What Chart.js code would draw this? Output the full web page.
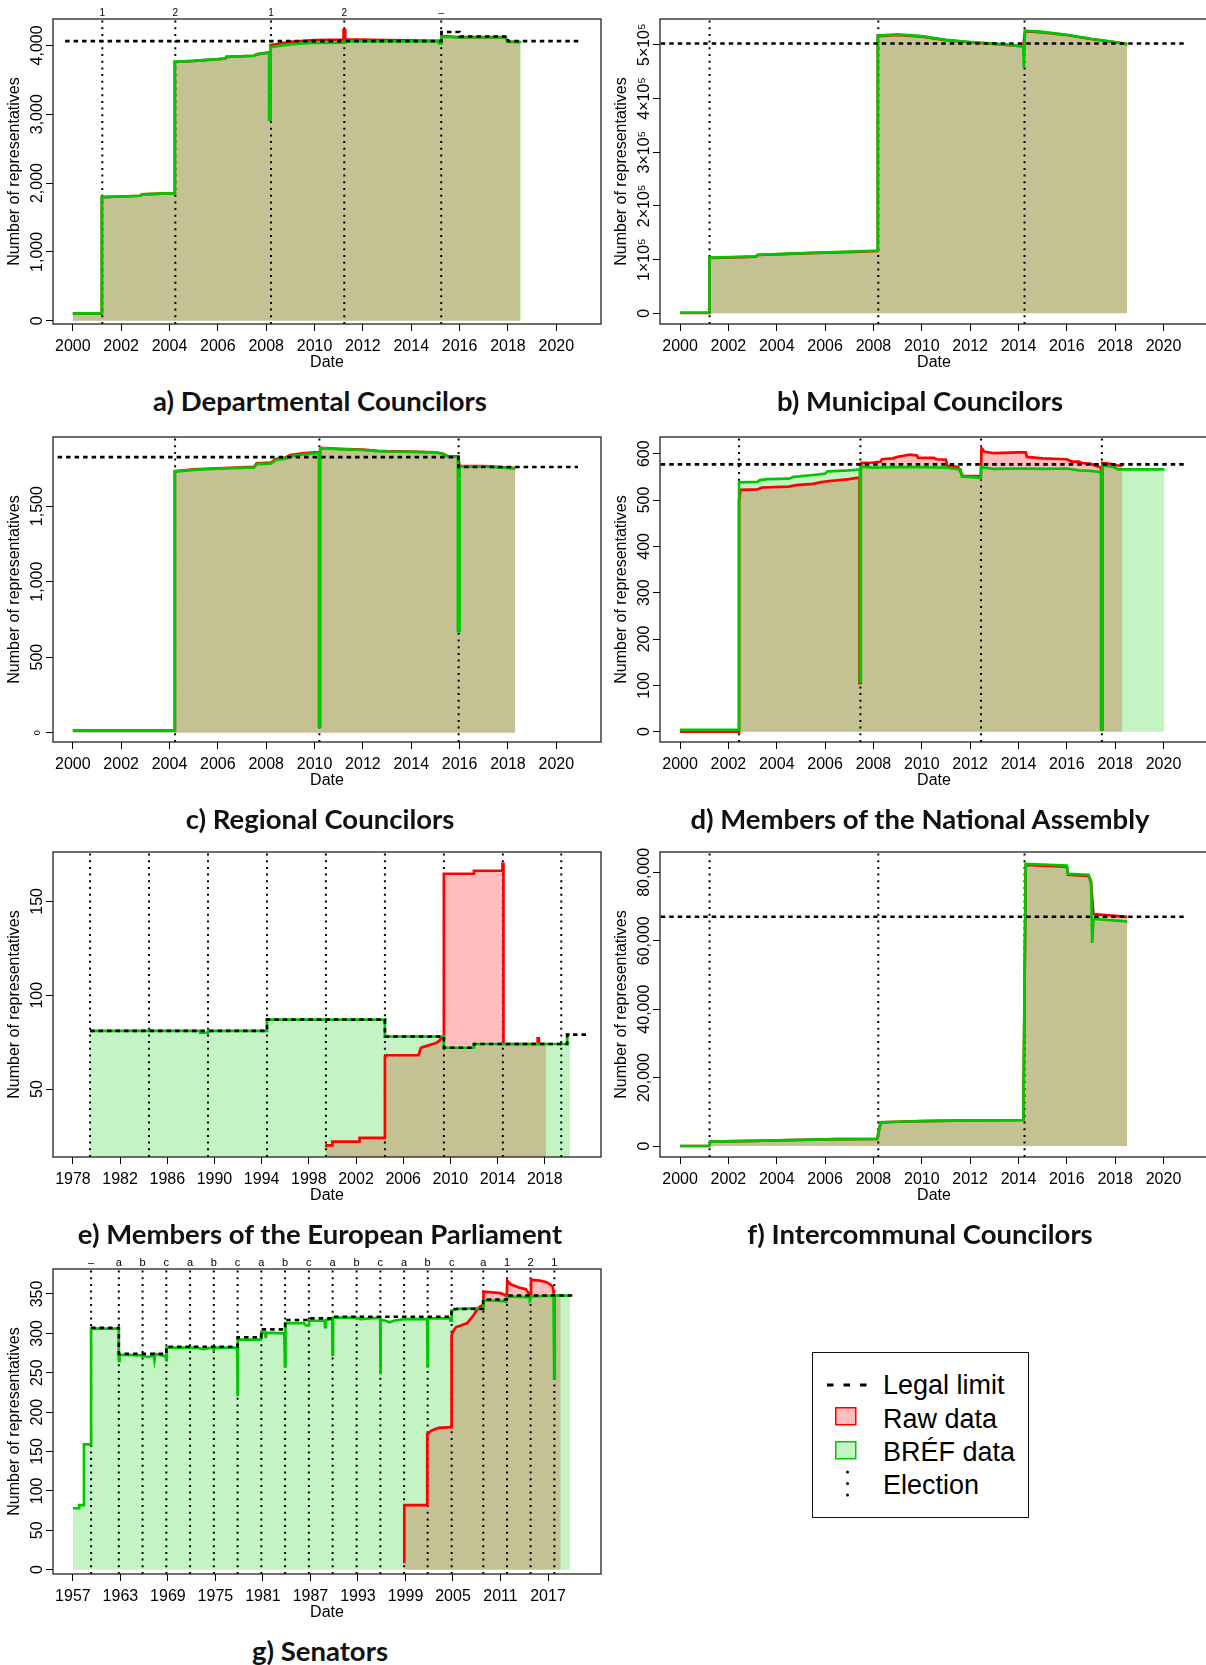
<!DOCTYPE html>
<html>
<head>
<meta charset="utf-8">
<script src="https://cdn.jsdelivr.net/npm/chart.js@4.4.1/dist/chart.umd.min.js"></script>
<style>
  html, body { margin: 0; padding: 0; background: #fff; }
  body { position: relative; width: 1206px; height: 1665px; overflow: hidden; }
  canvas { position: absolute; }
  .title { position: absolute; width: 600px; text-align: center; font: bold 27.5px Lato, "Open Sans", sans-serif; line-height: 27.5px; color: #111; white-space: nowrap; }
  #legend { position: absolute; left: 812px; top: 1352px; width: 217px; height: 166px; border: 1.5px solid #111; box-sizing: border-box; }
  #legend span { position: absolute; left: 70px; font: 27px "Liberation Sans", Arial, sans-serif; line-height: 30px; color: #000; white-space: nowrap; }
  #legend .sym { position: absolute; }
</style>
</head>
<body>
<canvas id="pa" width="609" height="380" style="left:0;top:-1px"></canvas>
<canvas id="pb" width="609" height="380" style="left:607px;top:-1px"></canvas>
<canvas id="pc" width="609" height="380" style="left:0;top:417px"></canvas>
<canvas id="pd" width="609" height="380" style="left:607px;top:417px"></canvas>
<canvas id="pe" width="609" height="380" style="left:0;top:832px"></canvas>
<canvas id="pf" width="609" height="380" style="left:607px;top:832px"></canvas>
<canvas id="pg" width="609" height="380" style="left:0;top:1249px"></canvas>

<div class="title" style="left:20px;top:387px">a) Departmental Councilors</div>
<div class="title" style="left:620px;top:387px">b) Municipal Councilors</div>
<div class="title" style="left:20px;top:805px">c) Regional Councilors</div>
<div class="title" style="left:620px;top:805px">d) Members of the National Assembly</div>
<div class="title" style="left:20px;top:1220px">e) Members of the European Parliament</div>
<div class="title" style="left:620px;top:1220px">f) Intercommunal Councilors</div>
<div class="title" style="left:20px;top:1637px">g) Senators</div>

<div id="legend">
  <svg class="sym" style="left:13px;top:27px" width="44" height="10"><line x1="1" y1="5" x2="43" y2="5" stroke="#000" stroke-width="3" stroke-dasharray="6.5 10"/></svg>
  <span style="top:17px">Legal limit</span>
  <svg class="sym" style="left:22px;top:54px" width="22" height="19"><rect x="0.75" y="0.75" width="20" height="17" fill="rgba(255,0,0,0.26)" stroke="#ff0000" stroke-width="1.5"/></svg>
  <span style="top:51px">Raw data</span>
  <svg class="sym" style="left:22px;top:88px" width="22" height="19"><rect x="0.75" y="0.75" width="20" height="17" fill="rgba(0,205,0,0.23)" stroke="#00c800" stroke-width="1.5"/></svg>
  <span style="top:84px">BRÉF data</span>
  <svg class="sym" style="left:30px;top:115px" width="10" height="34"><circle cx="4.5" cy="4" r="1.5" fill="#000"/><circle cx="4.5" cy="15.5" r="1.5" fill="#000"/><circle cx="4.5" cy="27" r="1.5" fill="#000"/></svg>
  <span style="top:117px">Election</span>
</div>

<script>
// ---- tick values ----
const yearTicks2000 = [2000, 2002, 2004, 2006, 2008, 2010, 2012, 2014, 2016, 2018, 2020];
const yearTicks1978 = [1978, 1982, 1986, 1990, 1994, 1998, 2002, 2006, 2010, 2014, 2018];
const yearTicks1957 = [1957, 1963, 1969, 1975, 1981, 1987, 1993, 1999, 2005, 2011, 2017];
const deptTicks = [0, 1000, 2000, 3000, 4000];
const muniTicks = [0, 100000, 200000, 300000, 400000, 500000];
const regTicks = [0, 500, 1000, 1500];
const natTicks = [0, 100, 200, 300, 400, 500, 600];
const euroTicks = [50, 100, 150];
const interTicks = [0, 20000, 40000, 60000, 80000];
const senTicks = [0, 50, 100, 150, 200, 250, 300, 350];

// ---- a) Departmental Councilors  [date, count] ----
const deptBref = [[2000, 107], [2001.2, 107], [2001.2, 1796], [2002.0, 1805], [2002.8, 1815], [2002.85, 1835],
  [2004.22, 1854], [2004.22, 3762], [2005.0, 3775], [2006.0, 3800], [2006.3, 3810], [2006.35, 3835], [2007.5, 3850],
  [2007.6, 3870], [2008.12, 3900], [2008.12, 2922], [2008.18, 2922], [2008.18, 3976], [2009.0, 4015], [2009.5, 4030],
  [2010.0, 4035], [2011.22, 4040], [2011.25, 4063], [2015.15, 4060], [2015.15, 4029], [2015.25, 4029], [2015.25, 4126],
  [2016.0, 4115], [2017.9, 4115], [2018.0, 4053], [2018.55, 4050]];
const deptRaw = [[2000, 107], [2001.2, 107], [2001.2, 1796], [2002.0, 1805], [2002.8, 1815], [2002.85, 1835],
  [2004.22, 1854], [2004.22, 3762], [2005.0, 3775], [2006.0, 3800], [2006.3, 3810], [2006.35, 3835], [2007.5, 3850],
  [2007.6, 3870], [2008.18, 3900], [2008.18, 4005], [2009.0, 4053], [2010.0, 4078], [2011.2, 4085], [2011.2, 4223],
  [2011.27, 4223], [2011.27, 4087], [2013.0, 4078], [2015.15, 4068], [2015.25, 4068], [2015.25, 4135], [2016.0, 4122],
  [2017.9, 4120], [2018.0, 4055], [2018.5, 4050]];
const deptLimit = [[1999.68, 4062], [2015.25, 4062], [2015.25, 4195], [2016.0, 4195], [2016.0, 4130], [2018.0, 4130],
  [2018.0, 4062], [2020.93, 4062]];
const deptElections = [2001.22, 2004.24, 2008.2, 2011.23, 2015.24];
const deptElectionLabels = ['1', '2', '1', '2', '–'];

// ---- b) Municipal Councilors ----
const muniBref = [[2000, 1200], [2001.2, 1200], [2001.22, 103700], [2002.5, 105000], [2003.15, 106000], [2003.2, 109000],
  [2004.5, 111000], [2006.0, 113500], [2007.2, 115000], [2008.15, 116500], [2008.18, 517000], [2009.0, 519000],
  [2010.0, 516000], [2011.0, 509000], [2012.0, 505000], [2013.0, 502000], [2014.2, 497000], [2014.22, 457000],
  [2014.27, 526000], [2015.0, 524000], [2016.0, 518500], [2017.0, 511000], [2018.0, 505000], [2018.5, 501000]];
const muniRaw = [[2000, 600], [2001.2, 600], [2001.22, 103000], [2002.5, 104500], [2003.15, 105500], [2003.2, 108500],
  [2004.5, 110500], [2006.0, 113000], [2007.2, 114500], [2008.15, 116000], [2008.18, 516000], [2009.0, 518000],
  [2010.0, 515000], [2011.0, 508500], [2012.0, 504500], [2013.0, 501500], [2014.2, 497000], [2014.27, 525000],
  [2015.0, 523000], [2016.0, 518000], [2017.0, 510500], [2018.0, 504500], [2018.5, 501000]];
const muniLimit = [[1999.2, 502300], [2020.93, 502300]];
const muniElections = [2001.22, 2008.2, 2014.25];

// ---- c) Regional Councilors ----
const regBref = [[2000, 13], [2004.22, 15], [2004.22, 1729], [2005, 1740], [2006, 1748], [2007.5, 1756], [2007.6, 1778],
  [2008.2, 1782], [2008.4, 1806], [2008.8, 1815], [2009.0, 1830], [2009.5, 1842], [2010.0, 1850], [2010.18, 1852],
  [2010.18, 40], [2010.24, 40], [2010.24, 1884], [2011, 1878], [2012, 1872], [2012.6, 1865], [2013, 1862], [2014, 1860],
  [2015, 1855], [2015.3, 1847], [2015.5, 1830], [2015.93, 1826], [2015.93, 672], [2016.0, 672], [2016.0, 1765],
  [2017, 1763], [2018.3, 1750]];
const regRaw = [[2000, 13], [2004.22, 15], [2004.22, 1732], [2005, 1743], [2006, 1751], [2007.5, 1760], [2007.6, 1783],
  [2008.2, 1788], [2008.4, 1812], [2008.8, 1822], [2009.0, 1838], [2009.5, 1850], [2010.0, 1857], [2010.22, 1858],
  [2010.24, 1886], [2011, 1880], [2012, 1874], [2012.6, 1867], [2013, 1864], [2014, 1862], [2015, 1857], [2015.3, 1849],
  [2015.5, 1832], [2015.95, 1828], [2016.0, 1767], [2017, 1765], [2018.3, 1752]];
const regLimit = [[1999.37, 1825], [2015.95, 1825], [2015.95, 1759], [2020.9, 1759]];
const regElections = [2004.23, 2010.2, 2015.96];

// ---- d) Members of the National Assembly ----
const natBref = [[2000, 4], [2002.44, 4], [2002.44, 538], [2003.2, 539], [2003.3, 543], [2003.6, 545], [2004.5, 546],
  [2004.7, 550], [2005.5, 554], [2006.0, 557], [2006.1, 562], [2007.0, 564], [2007.44, 566], [2007.44, 108],
  [2007.48, 108], [2007.48, 572], [2008, 570], [2009, 571], [2010, 571], [2011, 570], [2011.6, 566], [2011.65, 551],
  [2012.44, 548], [2012.46, 571], [2013, 567], [2014, 568], [2015, 567], [2016, 568], [2016.5, 564], [2017.0, 563],
  [2017.43, 560], [2017.43, 5], [2017.48, 5], [2017.48, 574], [2017.9, 572], [2018.1, 566], [2020.04, 566]];
const natRaw = [[2000, 0], [2002.44, 0], [2002.44, 500], [2002.5, 522], [2003.2, 523], [2003.4, 527], [2004.5, 529],
  [2004.8, 532], [2005.5, 535], [2005.8, 538], [2006.0, 540], [2007.0, 545], [2007.42, 549], [2007.42, 105],
  [2007.47, 105], [2007.47, 560], [2007.5, 580], [2008.0, 581], [2008.3, 583], [2008.35, 588], [2008.8, 590],
  [2009.0, 593], [2009.3, 596], [2009.5, 598], [2009.8, 596], [2009.85, 591], [2010.5, 591], [2010.6, 588],
  [2011.0, 587], [2011.05, 574], [2011.5, 571], [2011.55, 566], [2011.7, 552], [2012.4, 551], [2012.44, 548],
  [2012.47, 612], [2012.6, 604], [2013.0, 601], [2014.0, 603], [2014.3, 603], [2014.35, 593], [2015.0, 590],
  [2016.0, 588], [2016.2, 583], [2016.5, 583], [2016.6, 580], [2017.0, 578], [2017.4, 570], [2017.42, 567],
  [2017.42, 5], [2017.47, 5], [2017.47, 580], [2017.8, 578], [2018.0, 575], [2018.3, 574]];
const natLimit = [[1999.2, 577], [2020.93, 577]];
const natElections = [2002.44, 2007.46, 2012.45, 2017.45];

// ---- e) Members of the European Parliament ----
const euroBref = [[1979.45, 81], [1988.8, 81], [1988.8, 80], [1989.45, 80], [1989.45, 81], [1994.45, 81], [1994.45, 87],
  [2004.45, 87], [2004.45, 78], [2009.45, 78], [2009.45, 72], [2012.0, 72], [2012.0, 74], [2019.9, 74], [2019.9, 79],
  [2020.15, 79]];
const euroRaw = [[1999.45, 19], [1999.5, 20], [2000.0, 20], [2000.0, 22], [2002.3, 22], [2002.3, 24], [2004.45, 24],
  [2004.45, 67], [2004.6, 68], [2007.3, 68], [2007.5, 72], [2008.0, 73], [2008.5, 74], [2008.8, 74.5], [2009.1, 76],
  [2009.2, 77], [2009.45, 77], [2009.45, 164.7], [2012.0, 164.7], [2012.0, 166.3], [2014.42, 166.3], [2014.42, 170],
  [2014.5, 170], [2014.5, 74], [2017.4, 74], [2017.4, 77], [2017.5, 77], [2017.5, 74], [2018.1, 74]];
const euroLimit = [[1979.45, 81], [1994.45, 81], [1994.45, 87], [2004.45, 87], [2004.45, 78], [2009.45, 78],
  [2009.45, 72], [2012.0, 72], [2012.0, 74], [2019.9, 74], [2019.9, 79], [2021.5, 79]];
const euroElections = [1979.45, 1984.45, 1989.45, 1994.45, 1999.45, 2004.45, 2009.45, 2014.45, 2019.4];

// ---- f) Intercommunal Councilors ----
const interBref = [[2000, 0], [2001.2, 0], [2001.25, 1270], [2003, 1500], [2005, 1800], [2006.5, 2000], [2008.15, 2050],
  [2008.3, 6900], [2009.0, 7100], [2010.0, 7300], [2012.0, 7500], [2014.2, 7600], [2014.3, 82500], [2015.0, 82300],
  [2016.0, 82000], [2016.05, 79600], [2016.9, 79300], [2017.0, 77500], [2017.05, 59400], [2017.1, 66400],
  [2018.5, 65700]];
const interRaw = [[2000, 0], [2001.2, 0], [2001.25, 1270], [2003, 1500], [2005, 1800], [2006.5, 2000], [2008.15, 2050],
  [2008.3, 6900], [2009.0, 7100], [2010.0, 7300], [2012.0, 7500], [2014.2, 7600], [2014.3, 82200], [2015.0, 82000],
  [2016.0, 81700], [2016.05, 79300], [2016.9, 79000], [2017.0, 77200], [2017.1, 67800], [2018.5, 67000]];
const interLimit = [[1999.2, 67040], [2020.93, 67040]];
const interElections = [2001.22, 2008.2, 2014.25];

// ---- g) Senators ----
const senBref = [[1957.0, 78], [1957.8, 78], [1957.8, 82], [1958.4, 82], [1958.4, 159], [1959.3, 159], [1959.3, 306],
  [1962.8, 306], [1962.8, 265], [1962.9, 265], [1962.9, 273], [1965.5, 272], [1966.5, 270], [1967.2, 272], [1967.3, 266],
  [1967.4, 274], [1968.7, 271], [1968.78, 266], [1968.85, 282], [1972.5, 282], [1973.5, 280], [1974.6, 282],
  [1974.8, 279], [1974.9, 282], [1977.75, 282], [1977.75, 220], [1977.85, 220], [1977.85, 292], [1980.7, 292],
  [1980.8, 301], [1981.3, 301], [1981.35, 294], [1981.45, 301], [1983.7, 300], [1983.78, 258], [1983.85, 258],
  [1983.85, 313], [1986.2, 313], [1986.4, 310], [1986.8, 310], [1986.85, 316], [1988.8, 316], [1988.85, 308],
  [1988.95, 308], [1988.95, 317], [1989.75, 318], [1989.78, 273], [1989.85, 273], [1989.85, 320], [1992.8, 320],
  [1993.3, 318], [1995.8, 320], [1995.82, 248], [1995.88, 248], [1995.88, 317], [1996.5, 316], [1997.0, 314],
  [1997.5, 316], [1998.8, 318], [2001.75, 318], [2001.78, 258], [2001.85, 258], [2001.85, 319], [2004.6, 319],
  [2004.7, 316], [2004.82, 316], [2004.85, 329], [2005.5, 331], [2008.82, 332], [2008.85, 342], [2011.5, 341],
  [2011.7, 340], [2011.85, 347], [2014.6, 346], [2014.7, 344], [2014.85, 347], [2017.7, 348], [2017.78, 243],
  [2017.85, 243], [2017.85, 348], [2019.8, 348]];
const senRaw = [[1998.85, 8], [1998.85, 82], [2001.75, 82], [2001.75, 172], [2002.2, 176], [2002.6, 178], [2003.2, 180],
  [2004.78, 181], [2004.82, 298], [2005.1, 304], [2005.4, 308], [2006.0, 310], [2006.8, 313], [2007.2, 318],
  [2007.6, 323], [2007.9, 328], [2008.3, 333], [2008.6, 335], [2008.82, 336], [2008.85, 353], [2010.0, 352],
  [2011.0, 351], [2011.5, 349], [2011.8, 347], [2011.85, 367], [2012.3, 362], [2012.6, 361], [2013.4, 358],
  [2014.2, 356], [2014.6, 350], [2014.82, 348], [2014.85, 368], [2016.0, 367], [2016.8, 365], [2017.3, 362],
  [2017.6, 359], [2017.75, 348], [2018.6, 348]];
const senLimit = [[1959.3, 307], [1962.8, 307], [1962.8, 274], [1968.8, 274], [1968.8, 283], [1977.8, 283], [1977.8, 295],
  [1980.8, 295], [1980.8, 305], [1983.8, 305], [1983.8, 317], [1986.8, 317], [1986.8, 319], [1989.8, 319], [1989.8, 321],
  [2004.8, 321], [2004.8, 331], [2008.8, 331], [2008.8, 343], [2011.8, 343], [2011.8, 348], [2020.4, 348]];
const senElections = [1959.3, 1962.8, 1965.8, 1968.8, 1971.8, 1974.8, 1977.8, 1980.8, 1983.8, 1986.8, 1989.8, 1992.83,
  1995.83, 1998.83, 2001.8, 2004.83, 2008.83, 2011.82, 2014.8, 2017.8];
const senElectionLabels = ['–', 'a', 'b', 'c', 'a', 'b', 'c', 'a', 'b', 'c', 'a', 'b', 'c', 'a', 'b', 'c', 'a', '1', '2', '1'];

// ---- helpers ----
const FONT = '"Liberation Sans", Arial, Helvetica, sans-serif';

function toPoints(pairs) {
  return pairs.map(p => ({x: p[0], y: p[1]}));
}

// vertical segments from bottom to top of the y range, broken by gaps
function electionPoints(years, lo, hi) {
  const out = [];
  years.forEach(x => out.push({x: x, y: lo}, {x: x, y: hi}, {x: x, y: null}));
  return out;
}

function fixedTicks(values) {
  return scale => { scale.ticks = values.map(v => ({value: v})); };
}

// rotated y labels: shift so their centre sits ~15px left of the box
function labelPad(labels) {
  const ctx = document.createElement('canvas').getContext('2d');
  ctx.font = '16px ' + FONT;
  const widest = Math.max(...labels.map(l => ctx.measureText(l).width));
  return 8 - widest / 2;
}

const commas = v => v.toLocaleString('en-US');
const plain = v => String(v);
const sci = v => v === 0 ? '0' : (v / 100000) + '×10⁵';

const boxPlugin = {
  id: 'box',
  afterDraw(chart) {
    const {ctx, chartArea: a} = chart;
    ctx.save();
    ctx.strokeStyle = '#222';
    ctx.lineWidth = 1.3;
    ctx.strokeRect(a.left, a.top, a.width, a.height);
    ctx.restore();
  }
};

function drawPanel(id, p) {
  const yText = p.yTicks.map(p.yFormat);
  const tickGrid = {display: true, drawOnChartArea: false, drawTicks: true, tickLength: 7, tickColor: '#000', tickWidth: 1};
  const labels = p.electionLabels || [];

  new Chart(document.getElementById(id), {
    type: 'line',
    data: {
      datasets: [
        {label: 'Legal limit', data: toPoints(p.limit), borderColor: '#000', borderWidth: 2.6,
          borderDash: [4.5, 4], fill: false, order: 0},
        {label: 'BRÉF data', data: toPoints(p.bref), borderColor: '#00c800', backgroundColor: 'rgba(0,205,0,0.23)',
          borderWidth: 2.7, fill: 'origin', order: 1},
        {label: 'Raw data', data: toPoints(p.raw), borderColor: '#ff0000', backgroundColor: 'rgba(255,0,0,0.26)',
          borderWidth: 2.7, fill: 'origin', order: 2},
        {label: 'Election', data: electionPoints(p.elections, p.yMin, p.yMax), borderColor: '#000', borderWidth: 2,
          borderDash: [2, 4.7], fill: false, spanGaps: false, order: 3}
      ]
    },
    options: {
      responsive: false,
      animation: false,
      events: [],
      layout: {padding: {left: 0, top: 0, right: 8, bottom: 0}},
      elements: {
        point: {radius: 0, hoverRadius: 0},
        line: {tension: 0, borderCapStyle: 'butt', borderJoinStyle: 'miter'}
      },
      plugins: {
        legend: {display: false},
        tooltip: {enabled: false},
        filler: {drawTime: 'beforeDatasetsDraw'}
      },
      scales: {
        x: {
          type: 'linear', position: 'bottom', min: p.xMin, max: p.xMax,
          afterBuildTicks: fixedTicks(p.xTicks),
          afterFit: s => { s.height = 55; },
          ticks: {autoSkip: false, minRotation: 0, maxRotation: 0, padding: 6.4, color: '#000',
            font: {family: FONT, size: 16}, callback: plain},
          grid: tickGrid,
          border: {display: false},
          title: {display: true, text: 'Date', color: '#000', font: {family: FONT, size: 16},
            padding: {top: 0, bottom: 7}}
        },
        top: {
          type: 'linear', position: 'top', min: p.xMin, max: p.xMax,
          afterBuildTicks: fixedTicks(p.elections),
          afterFit: s => { s.height = 20; },
          ticks: {autoSkip: false, minRotation: 0, maxRotation: 0, padding: -0.5, color: '#000',
            font: {family: FONT, size: p.labelSize || 11}, callback: (v, i) => labels[i] || ''},
          grid: {display: false, drawTicks: false},
          border: {display: false}
        },
        y: {
          type: 'linear', position: 'left', min: p.yMin, max: p.yMax,
          afterBuildTicks: fixedTicks(p.yTicks),
          afterFit: s => { s.width = 53; },
          ticks: {autoSkip: false, minRotation: 90, maxRotation: 90, crossAlign: 'center',
            padding: labelPad(yText), color: '#000',
            font: ctx => ({family: FONT, size: (p.smallZero && ctx.tick && ctx.tick.value === 0) ? 9 : 16}),
            callback: p.yFormat},
          grid: tickGrid,
          border: {display: false},
          title: {display: true, text: 'Number of representatives', color: '#000',
            font: {family: FONT, size: 16}, padding: {top: 5.4, bottom: 0}}
        }
      }
    },
    plugins: [boxPlugin]
  });
}

drawPanel('pa', {xMin: 1999.18, xMax: 2021.85, xTicks: yearTicks2000, yMin: -48, yMax: 4384, yTicks: deptTicks,
  yFormat: commas, bref: deptBref, raw: deptRaw, limit: deptLimit, elections: deptElections,
  electionLabels: deptElectionLabels, labelSize: 10});
drawPanel('pb', {xMin: 1999.17, xMax: 2021.84, xTicks: yearTicks2000, yMin: -19900, yMax: 547800, yTicks: muniTicks,
  yFormat: sci, bref: muniBref, raw: muniRaw, limit: muniLimit, elections: muniElections});
drawPanel('pc', {xMin: 1999.18, xMax: 2021.85, xTicks: yearTicks2000, yMin: -62, yMax: 1958, yTicks: regTicks,
  yFormat: commas, bref: regBref, raw: regRaw, limit: regLimit, elections: regElections, smallZero: true});
drawPanel('pd', {xMin: 1999.17, xMax: 2021.84, xTicks: yearTicks2000, yMin: -22.3, yMax: 636, yTicks: natTicks,
  yFormat: plain, bref: natBref, raw: natRaw, limit: natLimit, elections: natElections});
drawPanel('pe', {xMin: 1976.31, xMax: 2022.77, xTicks: yearTicks1978, yMin: 13.8, yMax: 176.3, yTicks: euroTicks,
  yFormat: plain, bref: euroBref, raw: euroRaw, limit: euroLimit, elections: euroElections});
drawPanel('pf', {xMin: 1999.17, xMax: 2021.84, xTicks: yearTicks2000, yMin: -3212, yMax: 85956, yTicks: interTicks,
  yFormat: commas, bref: interBref, raw: interRaw, limit: interLimit, elections: interElections});
drawPanel('pg', {xMin: 1954.49, xMax: 2023.69, xTicks: yearTicks1957, yMin: -5.5, yMax: 381.7, yTicks: senTicks,
  yFormat: plain, bref: senBref, raw: senRaw, limit: senLimit, elections: senElections,
  electionLabels: senElectionLabels, labelSize: 11});
</script>
</body>
</html>
